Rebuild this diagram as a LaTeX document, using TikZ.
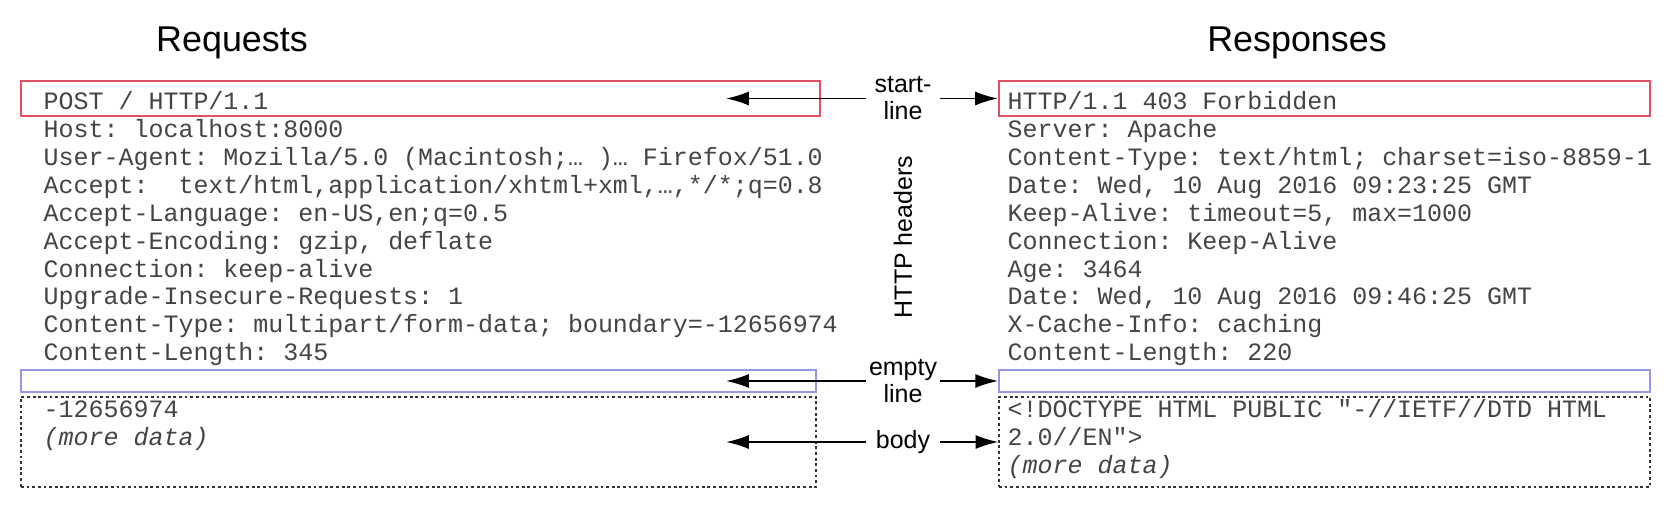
\documentclass[tikz,border=0pt]{standalone}
\usepackage{fontspec}
\setmainfont{Liberation Sans}
\setmonofont{Liberation Mono}
\usetikzlibrary{arrows.meta,fit}

\definecolor{startred}{RGB}{222,82,100}
\definecolor{emptyblue}{RGB}{150,150,232}
\definecolor{msggray}{RGB}{68,68,68}

\tikzset{
    title/.style={font=\fontsize{10.2}{12}\selectfont, anchor=base},
    msgline/.style={font=\ttfamily\fontsize{7.1}{7.9}\selectfont, text=msggray, anchor=base west, inner sep=0},
    startbox/.style={draw=startred, line width=0.6pt, inner sep=0},
    emptybox/.style={draw=emptyblue, line width=0.5pt, inner sep=0},
    bodybox/.style={draw=black!80, dash pattern=on 0.8pt off 0.8pt, line width=0.35pt, inner sep=0},
    part/.style={font=\fontsize{7.1}{7.7}\selectfont, align=center, minimum width=0.72cm, inner sep=0},
    pointer/.style={-{Latex[length=6.5pt,width=4pt]}, line width=0.5pt},
}

\begin{document}
\begin{tikzpicture}[x=0.01cm, y=-0.01cm]
    \useasboundingbox (0,0) rectangle (1680,516);
    % titles
    \node[title] (reqtitle) at (232,51.7) {Requests};
    \node[title] (restitle) at (1297,51.7) {Responses};
    % boxes
    \node[startbox, fit={(21,81) (820,116)}] (reqstart) {};
    \node[emptybox, fit={(21,370) (816,392)}] (reqempty) {};
    \node[bodybox, fit={(21,397) (816,487)}] (reqbody) {};
    \node[startbox, fit={(999,81) (1650,116)}] (resstart) {};
    \node[emptybox, fit={(999,370) (1650,392)}] (resempty) {};
    \node[bodybox, fit={(999,397) (1650,487)}] (resbody) {};
    % request lines
    \foreach \txt [count=\i from 0] in {
        {POST / HTTP/1.1},
        {Host: localhost:8000},
        {User-Agent: Mozilla/5.0 (Macintosh;… )… Firefox/51.0},
        {Accept:~~text/html,application/xhtml+xml,…,*/*;q=0.8},
        {Accept-Language: en-US,en;q=0.5},
        {Accept-Encoding: gzip, deflate},
        {Connection: keep-alive},
        {Upgrade-Insecure-Requests: 1},
        {Content-Type: multipart/form-data; boundary=-12656974},
        {Content-Length: 345}} {
        \node[msgline] (req\i) at (43, 110+27.85*\i) {\txt};
    }
    % response lines
    \foreach \txt [count=\i from 0] in {
        {HTTP/1.1 403 Forbidden},
        {Server: Apache},
        {Content-Type: text/html; charset=iso-8859-1},
        {Date: Wed, 10 Aug 2016 09:23:25 GMT},
        {Keep-Alive: timeout=5, max=1000},
        {Connection: Keep-Alive},
        {Age: 3464},
        {Date: Wed, 10 Aug 2016 09:46:25 GMT},
        {X-Cache-Info: caching},
        {Content-Length: 220}} {
        \node[msgline] (res\i) at (1007, 110+27.85*\i) {\txt};
    }
    % bodies
    \node[msgline] (reqdata1) at (43,417.5) {-12656974};
    \node[msgline] (reqdata2) at (43,445.4) {\itshape(more data)};
    \node[msgline] (resdata1) at (1007,417.5) {<!DOCTYPE HTML PUBLIC "-//IETF//DTD HTML};
    \node[msgline] (resdata2) at (1007,445.4) {2.0//EN">};
    \node[msgline] (resdata3) at (1007,473.2) {\itshape(more data)};
    % middle labels
    \node[part] (lblstart) at (903,98.5) {start-\\line};
    \node[part] (lblempty) at (903,381) {empty\\line};
    \node[part] (lblbody) at (903,442) {body};
    \node[part, rotate=90] (lblheaders) at (903,237) {HTTP headers};
    \coordinate (reqstarttip) at (726,98.5);
    \coordinate (reqemptytip) at (726,381);
    \coordinate (reqbodytip) at (726,442);
    % arrows
    \draw[pointer] (lblstart.west) -- (reqstarttip);
    \draw[pointer] (lblstart.east) -- (resstart.west);
    \draw[pointer] (lblempty.west) -- (reqemptytip);
    \draw[pointer] (lblempty.east) -- (resempty.west);
    \draw[pointer] (lblbody.west) -- (reqbodytip);
    \draw[pointer] (lblbody.east) -- (resbody.west);
\end{tikzpicture}
\end{document}
